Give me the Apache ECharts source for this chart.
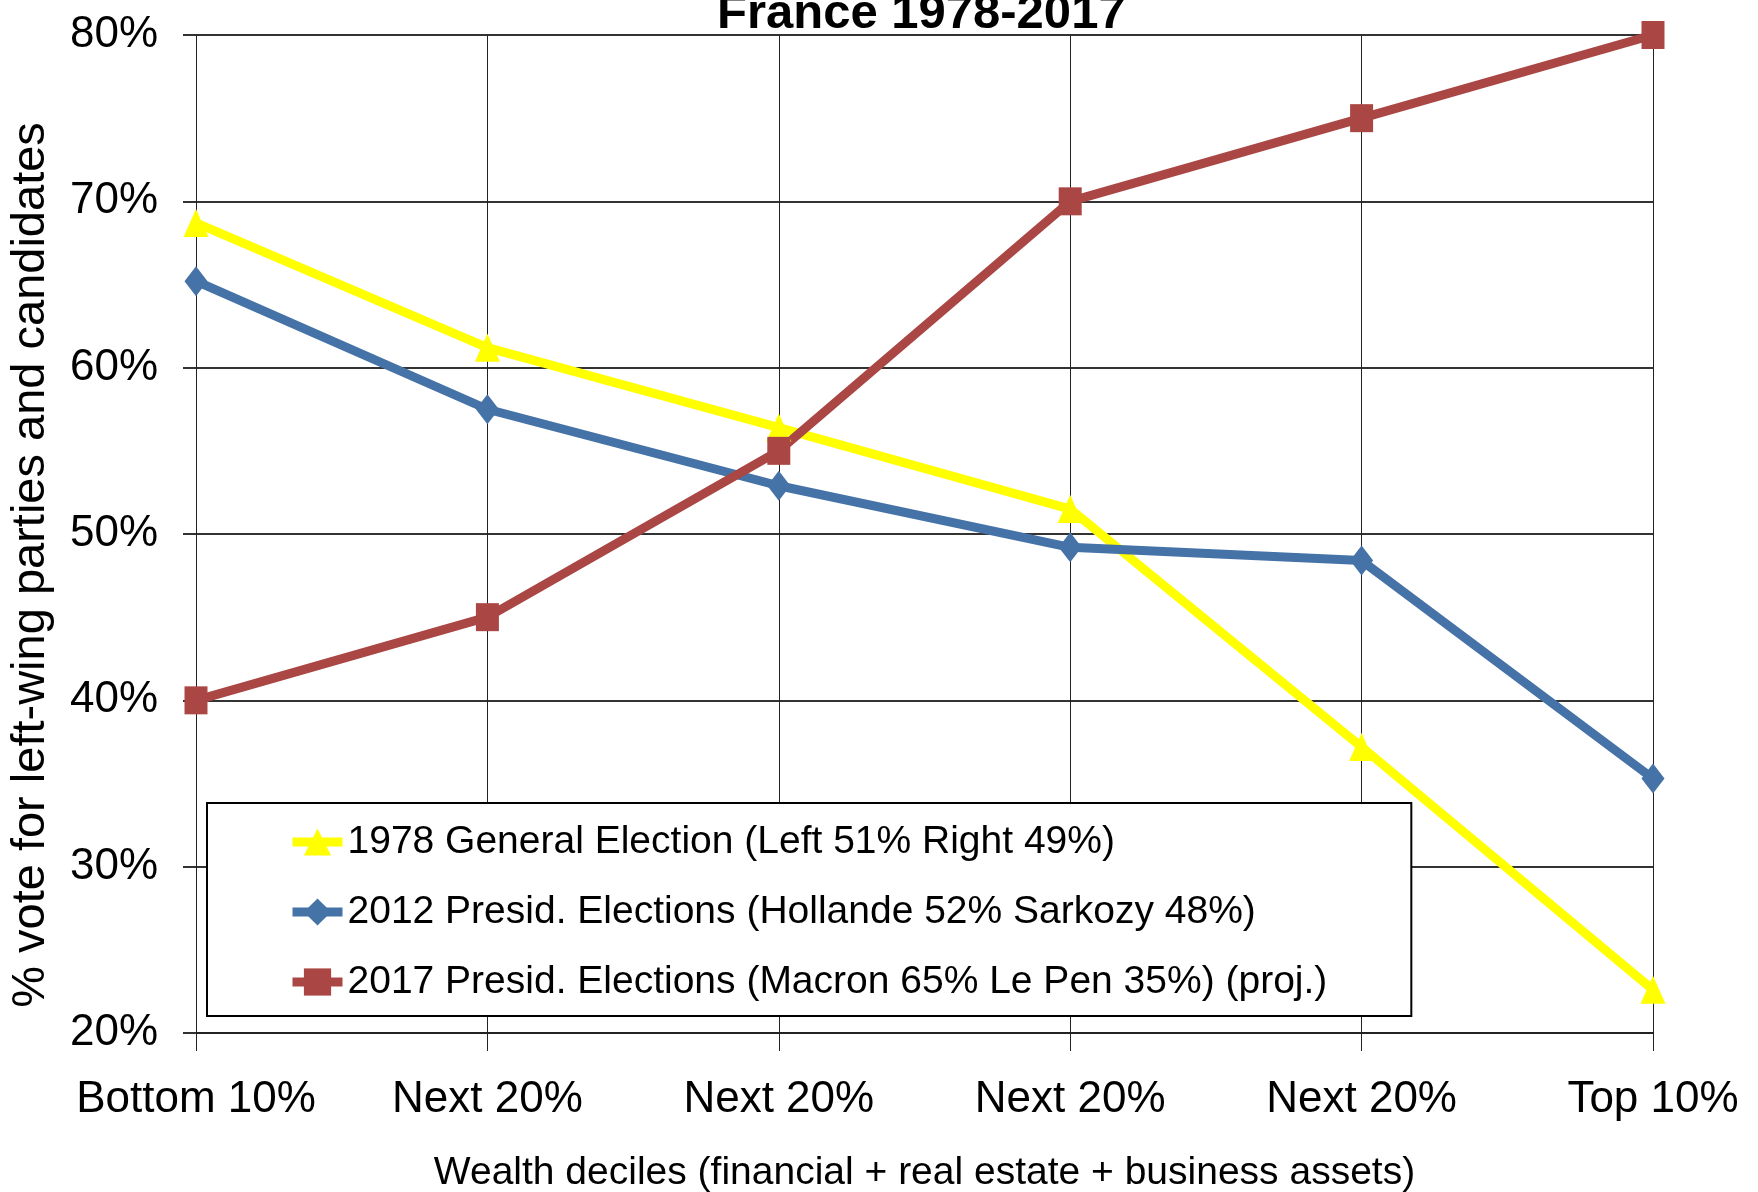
<!DOCTYPE html>
<html>
<head>
<meta charset="utf-8">
<script src="https://cdn.jsdelivr.net/npm/echarts@6/dist/echarts.min.js"></script>
<style>
  html, body { margin: 0; padding: 0; background: #fff; }
  #chart { width: 1758px; height: 1192px; }
</style>
</head>
<body>
<div id="chart"></div>
<script>
// wealth groups on the x axis
var categories = ['Bottom 10%', 'Next 20%', 'Next 20%', 'Next 20%', 'Next 20%', 'Top 10%'];

// % vote for the left
var vote1978 = [68.7, 61.2, 56.4, 51.5, 37.2, 22.6];
var vote2012 = [65.2, 57.5, 52.9, 49.2, 48.4, 35.3];
var vote2017 = [40, 45, 55, 70, 75, 80];

var seriesNames = [
    '1978 General Election (Left 51% Right 49%)',
    '2012 Presid. Elections (Hollande 52% Sarkozy 48%)',
    '2017 Presid. Elections (Macron 65% Le Pen 35%) (proj.)'
];

// no narrow font installed, so sizes are picked to match the text widths
var font = '"Liberation Sans", Arial, sans-serif';

var myChart = echarts.init(document.getElementById('chart'));

function lineSeries(name, data, color, symbol, size) {
    return {
        name: name,
        type: 'line',
        data: data,
        symbol: symbol,
        symbolSize: size,
        lineStyle: { color: color, width: 9 },
        itemStyle: { color: color },
        emphasis: { disabled: true },
        z: 3
    };
}

var option = {
    animation: false,
    backgroundColor: '#fff',
    title: {
        text: 'France 1978-2017',
        left: 712,
        top: -15,
        textStyle: { fontFamily: font, fontWeight: 'bold', fontSize: 49, color: '#000' }
    },
    grid: { left: 196, right: 105, top: 35, bottom: 159, outerBoundsMode: 'none' },
    legend: {
        orient: 'vertical',
        left: 207,
        top: 803,
        z: 1,
        padding: [15, 84, 10, 81],
        itemWidth: 50,
        itemHeight: 34,
        itemGap: 22,
        backgroundColor: '#fff',
        borderColor: '#000',
        borderWidth: 2,
        borderRadius: 0,
        lineStyle: { width: 9 },
        textStyle: { fontFamily: font, fontSize: 39, color: '#000', lineHeight: 48 },
        data: seriesNames
    },
    xAxis: {
        type: 'category',
        data: categories,
        boundaryGap: false,
        name: 'Wealth deciles (financial + real estate + business assets)',
        nameLocation: 'middle',
        nameGap: 121,
        nameTextStyle: { fontFamily: font, fontSize: 39, color: '#000' },
        axisLine: { lineStyle: { color: '#222', width: 2 } },
        axisTick: { show: true, length: 18, lineStyle: { color: '#222', width: 1 } },
        axisLabel: { fontFamily: font, fontSize: 44, color: '#000', margin: 45, interval: 0 },
        splitLine: { show: true, lineStyle: { color: '#222', width: 1 } }
    },
    yAxis: {
        type: 'value',
        min: 20,
        max: 80,
        interval: 10,
        name: '% vote for left-wing parties and candidates',
        nameLocation: 'middle',
        nameGap: 141,
        nameTextStyle: { fontFamily: font, fontSize: 47, color: '#000', padding: [0, 62, 0, 0] },
        axisLine: { show: true, lineStyle: { color: '#222', width: 1 } },
        axisTick: { show: true, length: 13, lineStyle: { color: '#333', width: 2 } },
        axisLabel: { fontFamily: font, fontSize: 44, color: '#000', margin: 38, formatter: '{value}%' },
        splitLine: { show: true, lineStyle: { color: '#333', width: 2 } }
    },
    series: [
        lineSeries(seriesNames[0], vote1978, '#FFFF00', 'triangle', [25, 28]),
        lineSeries(seriesNames[1], vote2012, '#4572A7', 'diamond', [23, 30]),
        lineSeries(seriesNames[2], vote2017, '#AA4643', 'rect', [23, 28])
    ]
};

myChart.setOption(option);
window.addEventListener('resize', function () {
    myChart.resize();
});
</script>
</body>
</html>
